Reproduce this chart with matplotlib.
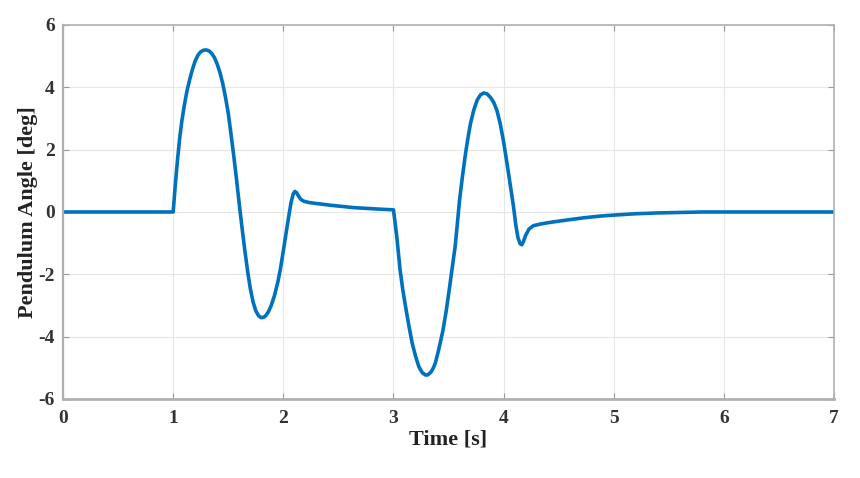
import matplotlib.pyplot as plt
import numpy as np

# values
t = [0.0, 1.0, 1.02, 1.04, 1.06, 1.08, 1.10, 1.125, 1.15, 1.175, 1.20, 1.225, 1.25,
     1.275, 1.30, 1.325, 1.35, 1.375, 1.40, 1.425, 1.45, 1.475, 1.50, 1.525, 1.55,
     1.575, 1.60, 1.625, 1.65, 1.675, 1.70, 1.725, 1.75, 1.775, 1.80, 1.82, 1.84,
     1.865, 1.89, 1.92, 1.95, 1.975, 2.00, 2.025, 2.05, 2.07, 2.09, 2.105, 2.12, 2.14,
     2.16, 2.19, 2.24, 2.42, 2.64, 2.88, 3.0,
     3.015, 3.03, 3.045, 3.06, 3.085, 3.11, 3.14, 3.17, 3.20, 3.23, 3.26, 3.29, 3.31,
     3.34, 3.36, 3.38, 3.41, 3.45, 3.48, 3.51, 3.535, 3.56, 3.58, 3.60, 3.625, 3.65,
     3.675, 3.70, 3.73, 3.76, 3.79, 3.82, 3.85, 3.88, 3.91, 3.94, 3.97, 4.00, 4.03,
     4.06, 4.09, 4.11, 4.13, 4.15, 4.165, 4.18, 4.20, 4.23, 4.27, 4.33, 4.41, 4.57,
     4.72, 4.88, 5.0, 5.18, 5.4, 5.6, 5.8, 6.0, 7.0]
angle = [0.0, 0.0, 0.90, 1.70, 2.40, 2.95, 3.40, 3.88, 4.25, 4.58, 4.85, 5.03, 5.14,
         5.19, 5.20, 5.17, 5.09, 4.95, 4.74, 4.47, 4.12, 3.68, 3.17, 2.50, 1.80,
         1.05, 0.25, -0.50, -1.22, -1.88, -2.45, -2.88, -3.17, -3.33, -3.39, -3.38, -3.33,
         -3.20, -3.00, -2.68, -2.25, -1.80, -1.25, -0.68, -0.12, 0.30, 0.58, 0.66, 0.62, 0.50,
         0.40, 0.34, 0.30, 0.22, 0.14, 0.09, 0.07,
         -0.35, -0.79, -1.32, -1.86, -2.50, -3.04, -3.65, -4.21, -4.62, -4.96, -5.15, -5.23, -5.23,
         -5.14, -5.02, -4.85, -4.43, -3.79, -3.15, -2.40, -1.75, -1.11, -0.38, 0.38, 1.10, 1.77,
         2.35, 2.85, 3.28, 3.59, 3.76, 3.82, 3.79, 3.68, 3.52, 3.25, 2.82, 2.25, 1.58,
         0.88, 0.17, -0.40, -0.82, -1.02, -1.05, -0.95, -0.75, -0.55, -0.44, -0.39, -0.34, -0.26,
         -0.19, -0.13, -0.10, -0.06, -0.03, -0.015, 0.0, 0.0, 0.0]

xticks = np.arange(0, 8, 1)
yticks = np.arange(-6, 7, 2)

plt.rcParams['font.family'] = ['Liberation Serif', 'DejaVu Serif']
plt.rcParams['font.weight'] = 'bold'
plt.rcParams['axes.unicode_minus'] = False

fig = plt.figure(figsize=(8.6, 4.78), dpi=100)
ax = fig.add_axes([0.0733, 0.1653, 0.8965, 0.7824])

ax.plot(t, angle, color='#0072BD', linewidth=2.6, solid_joinstyle='round')

ax.set_xlim(0, 7)
ax.set_ylim(-6, 6)
ax.set_xticks(xticks)
ax.set_yticks(yticks)
ax.grid(True, color='#e6e6e6', linewidth=0.8)
ax.set_axisbelow(True)
ax.tick_params(direction='in', length=4, color='#999999', labelsize=14,
               top=True, right=True)
ax.tick_params(axis='x', pad=8)
ax.tick_params(axis='y', pad=6)
for lab in ax.get_xticklabels() + ax.get_yticklabels():
    lab.set_fontweight('bold')
    lab.set_color('#333333')
for s in ax.spines.values():
    s.set_color('#b0b0b0')
    s.set_linewidth(1.2)
ax.spines['bottom'].set_linewidth(2)
ax.spines['left'].set_linewidth(1.6)

ax.set_xlabel('Time [s]', fontsize=16, fontweight='bold', color='#222222', labelpad=2)
ax.set_ylabel('Pendulum Angle [deg]', fontsize=16, fontweight='bold', color='#222222', labelpad=0)

fig.savefig('out.png', dpi=100)
